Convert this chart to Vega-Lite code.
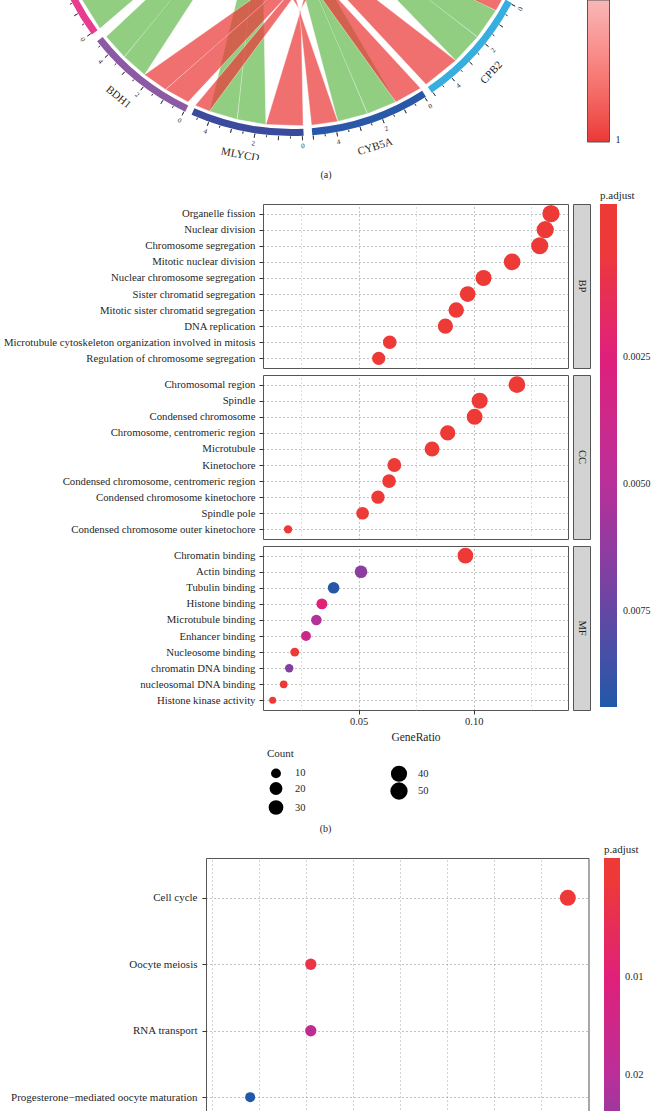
{
  "$schema": "https://vega.github.io/schema/vega-lite/v6.json",
  "padding": 0,
  "spacing": 10,
  "config": {
    "font": "Liberation Serif",
    "view": {"stroke": "#555555", "strokeWidth": 1},
    "axis": {"labelColor": "#1f1f1f", "titleColor": "#1f1f1f", "labelFontSize": 11, "titleFontSize": 11.5, "titleFontWeight": "normal", "tickColor": "#333333", "tickSize": 4, "domain": false, "labelPadding": 2.5},
    "legend": {"padding": 0, "labelColor": "#1f1f1f", "titleColor": "#1f1f1f", "titleFontWeight": "normal", "titleFontSize": 11, "labelFontSize": 10.5},
    "title": {"fontWeight": "normal", "fontSize": 10, "color": "#1f1f1f"}
  },
  "resolve": {"scale": {"color": "independent", "size": "independent", "stroke": "independent", "fill": "independent"}},
  "datasets": {
    "genes": [
      {"gene": "CPB2", "start": 117.6, "end": 145.7, "mid": 132.8, "logFC": 1},
      {"gene": "CYB5A", "start": 147.3, "end": 175.3, "mid": 162.2, "logFC": 1},
      {"gene": "MLYCD", "start": 177.3, "end": 203.9, "mid": 191, "logFC": 1},
      {"gene": "BDH1", "start": 205.5, "end": 231.8, "mid": 219.7, "logFC": 1},
      {"gene": "g5", "start": 233.8, "end": 265, "logFC": 1}
    ],
    "ticks": [
      {"t": 117.9, "m": 1, "lab": "0"}, {"t": 120.65, "m": 0}, {"t": 123.4, "m": 1}, {"t": 126.15, "m": 0}, {"t": 128.9, "m": 1, "lab": "2"}, {"t": 131.65, "m": 0}, {"t": 134.4, "m": 1}, {"t": 137.15, "m": 0}, {"t": 139.9, "m": 1, "lab": "4"}, {"t": 142.65, "m": 0}, {"t": 145.4, "m": 1},
      {"t": 147.6, "m": 1, "lab": "0"}, {"t": 150.35, "m": 0}, {"t": 153.1, "m": 1}, {"t": 155.85, "m": 0}, {"t": 158.6, "m": 1, "lab": "2"}, {"t": 161.35, "m": 0}, {"t": 164.1, "m": 1}, {"t": 166.85, "m": 0}, {"t": 169.6, "m": 1, "lab": "4"}, {"t": 172.35, "m": 0}, {"t": 175.1, "m": 1},
      {"t": 177.6, "m": 1, "lab": "0"}, {"t": 180.35, "m": 0}, {"t": 183.1, "m": 1}, {"t": 185.85, "m": 0}, {"t": 188.6, "m": 1, "lab": "2"}, {"t": 191.35, "m": 0}, {"t": 194.1, "m": 1}, {"t": 196.85, "m": 0}, {"t": 199.6, "m": 1, "lab": "4"}, {"t": 202.35, "m": 0},
      {"t": 205.8, "m": 1, "lab": "0"}, {"t": 208.55, "m": 0}, {"t": 211.3, "m": 1}, {"t": 214.05, "m": 0}, {"t": 216.8, "m": 1, "lab": "2"}, {"t": 219.55, "m": 0}, {"t": 222.3, "m": 1}, {"t": 225.05, "m": 0}, {"t": 227.8, "m": 1, "lab": "4"}, {"t": 230.55, "m": 0},
      {"t": 234.1, "m": 1, "lab": "0"}, {"t": 236.85, "m": 0}, {"t": 239.6, "m": 1}, {"t": 242.35, "m": 0}, {"t": 245.1, "m": 1}, {"t": 247.85, "m": 0}
    ],
    "ribbons": [
      {"type": "Feature", "properties": {"col": "g"}, "geometry": {"type": "Polygon", "coordinates": [[[-192.1, -140.6], [-210.1, -111.7], [-12.2, 14.0], [-192.1, -140.6]]]}},
      {"type": "Feature", "properties": {"col": "g"}, "geometry": {"type": "Polygon", "coordinates": [[[-210.1, -111.7], [-226.4, -73.5], [-9.2, 15.0], [-210.1, -111.7]]]}},
      {"type": "Feature", "properties": {"col": "g"}, "geometry": {"type": "Polygon", "coordinates": [[[-167.7, -168.9], [-185.8, -148.7], [-14.5, 11.75], [-167.7, -168.9]]]}},
      {"type": "Feature", "properties": {"col": "g"}, "geometry": {"type": "Polygon", "coordinates": [[[-147.5, -186.8], [-167.7, -168.9], [-19.1, 11.4], [-147.5, -186.8]]]}},
      {"type": "Feature", "properties": {"col": "g"}, "geometry": {"type": "Polygon", "coordinates": [[[-54.7, -231.6], [-82.6, -223.2], [-27.5, 1.65], [-54.7, -231.6]]]}},
      {"type": "Feature", "properties": {"col": "g"}, "geometry": {"type": "Polygon", "coordinates": [[[-26.1, -236.6], [-54.7, -231.6], [-30.5, -2.7], [-26.1, -236.6]]]}},
      {"type": "Feature", "properties": {"col": "g"}, "geometry": {"type": "Polygon", "coordinates": [[[75.5, -225.7], [45.8, -233.5], [-14.6, -6.0], [75.5, -225.7]]]}},
      {"type": "Feature", "properties": {"col": "g"}, "geometry": {"type": "Polygon", "coordinates": [[[104.0, -214.1], [75.5, -225.7], [-15.8, -9.5], [104.0, -214.1]]]}},
      {"type": "Feature", "properties": {"col": "g"}, "geometry": {"type": "Polygon", "coordinates": [[[185.6, -149.0], [163.8, -172.6], [-1.8, -2.0], [185.6, -149.0]]]}},
      {"type": "Feature", "properties": {"col": "g"}, "geometry": {"type": "Polygon", "coordinates": [[[204.0, -122.6], [185.6, -149.0], [-2.7, -4.3], [204.0, -122.6]]]}},
      {"type": "Feature", "properties": {"col": "r"}, "geometry": {"type": "Polygon", "coordinates": [[[-126.5, -201.6], [-147.5, -186.8], [58.0, -42.0], [-126.5, -201.6]]]}},
      {"type": "Feature", "properties": {"col": "r"}, "geometry": {"type": "Polygon", "coordinates": [[[-104.0, -214.1], [-126.5, -201.6], [62.0, -36.0], [-104.0, -214.1]]]}},
      {"type": "Feature", "properties": {"col": "r"}, "geometry": {"type": "Polygon", "coordinates": [[[-82.6, -223.2], [-96.8, -217.4], [60.0, -30.0], [-82.6, -223.2]]]}},
      {"type": "Feature", "properties": {"col": "r"}, "geometry": {"type": "Polygon", "coordinates": [[[11.2, -237.7], [-26.1, -236.6], [9.0, -121.0], [11.2, -237.7]]]}},
      {"type": "Feature", "properties": {"col": "r"}, "geometry": {"type": "Polygon", "coordinates": [[[9.0, -121.0], [45.0, -60.0], [27.0, -55.0], [9.0, -121.0]]]}},
      {"type": "Feature", "properties": {"col": "r"}, "geometry": {"type": "Polygon", "coordinates": [[[45.8, -233.5], [19.5, -237.2], [7.0, -121.0], [45.8, -233.5]]]}},
      {"type": "Feature", "properties": {"col": "r"}, "geometry": {"type": "Polygon", "coordinates": [[[7.0, -121.0], [-12.0, -55.0], [-32.0, -60.0], [7.0, -121.0]]]}},
      {"type": "Feature", "properties": {"col": "r"}, "geometry": {"type": "Polygon", "coordinates": [[[128.6, -200.3], [104.0, -214.1], [-26.8, -31.6], [128.6, -200.3]]]}},
      {"type": "Feature", "properties": {"col": "r"}, "geometry": {"type": "Polygon", "coordinates": [[[163.8, -172.6], [134.1, -196.6], [-20.1, -30.9], [163.8, -172.6]]]}},
      {"type": "Feature", "properties": {"col": "r"}, "geometry": {"type": "Polygon", "coordinates": [[[210.9, -110.3], [204.0, -122.6], [-6.7, -18.8], [210.9, -110.3]]]}}
    ],
    "bp": [
      {"Description": "Organelle fission", "GeneRatio": 0.1336, "Count": 50, "padj": 1.2e-20},
      {"Description": "Nuclear division", "GeneRatio": 0.1311, "Count": 49, "padj": 1.5e-20},
      {"Description": "Chromosome segregation", "GeneRatio": 0.1287, "Count": 48, "padj": 2.0e-22},
      {"Description": "Mitotic nuclear division", "GeneRatio": 0.1167, "Count": 44, "padj": 3.1e-20},
      {"Description": "Nuclear chromosome segregation", "GeneRatio": 0.1043, "Count": 39, "padj": 8.4e-18},
      {"Description": "Sister chromatid segregation", "GeneRatio": 0.0974, "Count": 37, "padj": 5.6e-18},
      {"Description": "Mitotic sister chromatid segregation", "GeneRatio": 0.0924, "Count": 35, "padj": 2.3e-18},
      {"Description": "DNA replication", "GeneRatio": 0.0877, "Count": 33, "padj": 1.1e-13},
      {"Description": "Microtubule cytoskeleton organization involved in mitosis", "GeneRatio": 0.0635, "Count": 24, "padj": 4.5e-13},
      {"Description": "Regulation of chromosome segregation", "GeneRatio": 0.0587, "Count": 22, "padj": 6.0e-11}
    ],
    "cc": [
      {"Description": "Chromosomal region", "GeneRatio": 0.1188, "Count": 45, "padj": 1.0e-19},
      {"Description": "Spindle", "GeneRatio": 0.1026, "Count": 39, "padj": 2.2e-15},
      {"Description": "Condensed chromosome", "GeneRatio": 0.1004, "Count": 38, "padj": 3.5e-18},
      {"Description": "Chromosome, centromeric region", "GeneRatio": 0.0887, "Count": 33, "padj": 1.4e-17},
      {"Description": "Microtubule", "GeneRatio": 0.0819, "Count": 31, "padj": 6.1e-10},
      {"Description": "Kinetochore", "GeneRatio": 0.0655, "Count": 25, "padj": 2.0e-13},
      {"Description": "Condensed chromosome, centromeric region", "GeneRatio": 0.0632, "Count": 24, "padj": 4.8e-15},
      {"Description": "Condensed chromosome kinetochore", "GeneRatio": 0.0584, "Count": 22, "padj": 1.3e-14},
      {"Description": "Spindle pole", "GeneRatio": 0.0517, "Count": 19, "padj": 7.7e-07},
      {"Description": "Condensed chromosome outer kinetochore", "GeneRatio": 0.0193, "Count": 7, "padj": 8.9e-07}
    ],
    "mf": [
      {"Description": "Chromatin binding", "GeneRatio": 0.0964, "Count": 36, "padj": 2.0e-05},
      {"Description": "Actin binding", "GeneRatio": 0.051, "Count": 19, "padj": 0.0064},
      {"Description": "Tubulin binding", "GeneRatio": 0.0391, "Count": 15, "padj": 0.0093},
      {"Description": "Histone binding", "GeneRatio": 0.034, "Count": 13, "padj": 0.0023},
      {"Description": "Microtubule binding", "GeneRatio": 0.0316, "Count": 12, "padj": 0.0051},
      {"Description": "Enhancer binding", "GeneRatio": 0.0271, "Count": 10, "padj": 0.0037},
      {"Description": "Nucleosome binding", "GeneRatio": 0.0222, "Count": 8, "padj": 0.0002},
      {"Description": "chromatin DNA binding", "GeneRatio": 0.0198, "Count": 7, "padj": 0.0066},
      {"Description": "nucleosomal DNA binding", "GeneRatio": 0.0174, "Count": 6, "padj": 0.0003},
      {"Description": "Histone kinase activity", "GeneRatio": 0.0126, "Count": 5, "padj": 0.00025}
    ],
    "kegg": [
      {"Description": "Cell cycle", "GeneRatio": 0.1058, "Count": 17, "padj": 2.1e-06},
      {"Description": "Oocyte meiosis", "GeneRatio": 0.0511, "Count": 8, "padj": 0.0021},
      {"Description": "RNA transport", "GeneRatio": 0.0511, "Count": 8, "padj": 0.018},
      {"Description": "Progesterone−mediated oocyte maturation", "GeneRatio": 0.0382, "Count": 6, "padj": 0.0386}
    ]
  },
  "vconcat": [
    {
      "width": 652,
      "height": 160,
      "view": {"stroke": null},
      "title": {"text": "(a)", "orient": "bottom", "offset": 10, "anchor": "middle"},
      "layer": [
        {
          "data": {"name": "ribbons"},
          "mark": {"type": "geoshape", "clip": true, "fillOpacity": 0.72, "stroke": "#ffffff", "strokeWidth": 0.6, "strokeOpacity": 0.7},
          "projection": {"type": "identity", "reflectY": true, "scale": 1, "translate": [292, -112]},
          "encoding": {
            "color": {"field": "properties.col", "type": "nominal", "scale": {"domain": ["g", "r"], "range": ["#67bb50", "#ea3939"]}, "legend": null}
          }
        },
        {
          "data": {"name": "genes"},
          "mark": {"type": "arc", "radius": 248, "radius2": 241, "clip": true, "strokeWidth": 0},
          "encoding": {
            "x": {"datum": 0, "type": "quantitative", "scale": {"domain": [-292, 360], "nice": false, "zero": false}, "axis": null},
            "y": {"datum": 0, "type": "quantitative", "scale": {"domain": [-272, -112], "nice": false, "zero": false}, "axis": null},
            "theta": {"field": "start", "type": "quantitative", "stack": null, "scale": {"domain": [0, 360], "range": [0, 6.283185307]}},
            "theta2": {"field": "end"},
            "fill": {"field": "gene", "type": "nominal", "scale": {"domain": ["CPB2", "CYB5A", "MLYCD", "BDH1", "g5"], "range": ["#36aee0", "#2a58a8", "#3a4a9c", "#8c59a5", "#e83d8f"]}, "legend": null},
            "stroke": {"field": "logFC", "type": "quantitative", "scale": {"domain": [1.005, 0.55], "range": ["#ea3838", "#f7b8b8"]},
              "legend": {"orient": "none", "legendX": 587.5, "legendY": 0, "title": null, "gradientLength": 142, "gradientThickness": 22, "values": [1], "format": "d", "gradientStrokeColor": "#555555", "gradientStrokeWidth": 1, "labelFontSize": 10, "labelOffset": 6}}
          }
        },
        {
          "data": {"name": "ticks"},
          "transform": [{"filter": "datum.m == 1"}],
          "mark": {"type": "arc", "radius": 252.5, "radius2": 248.5, "clip": true, "fillOpacity": 0, "stroke": "#333333", "strokeWidth": 0.8},
          "encoding": {
            "x": {"datum": 0, "type": "quantitative", "scale": {"domain": [-292, 360], "nice": false, "zero": false}, "axis": null},
            "y": {"datum": 0, "type": "quantitative", "scale": {"domain": [-272, -112], "nice": false, "zero": false}, "axis": null},
            "theta": {"field": "t", "type": "quantitative", "stack": null, "scale": {"domain": [0, 360], "range": [0, 6.283185307]}},
            "theta2": {"field": "t"}
          }
        },
        {
          "data": {"name": "ticks"},
          "transform": [{"filter": "datum.m == 0"}],
          "mark": {"type": "arc", "radius": 250.5, "radius2": 248.5, "clip": true, "fillOpacity": 0, "stroke": "#333333", "strokeWidth": 0.7},
          "encoding": {
            "x": {"datum": 0, "type": "quantitative", "scale": {"domain": [-292, 360], "nice": false, "zero": false}, "axis": null},
            "y": {"datum": 0, "type": "quantitative", "scale": {"domain": [-272, -112], "nice": false, "zero": false}, "axis": null},
            "theta": {"field": "t", "type": "quantitative", "stack": null, "scale": {"domain": [0, 360], "range": [0, 6.283185307]}},
            "theta2": {"field": "t"}
          }
        },
        {
          "data": {"name": "ticks"},
          "transform": [{"filter": "isValid(datum.lab)"}],
          "mark": {"type": "text", "radius": 258.5, "clip": true, "fontSize": 7, "color": "#1f1f1f", "align": "center", "baseline": "middle"},
          "encoding": {
            "x": {"datum": 0, "type": "quantitative", "scale": {"domain": [-292, 360], "nice": false, "zero": false}, "axis": null},
            "y": {"datum": 0, "type": "quantitative", "scale": {"domain": [-272, -112], "nice": false, "zero": false}, "axis": null},
            "theta": {"field": "t", "type": "quantitative", "stack": null, "scale": {"domain": [0, 360], "range": [0, 6.283185307]}},
            "angle": {"field": "t", "type": "quantitative", "scale": {"domain": [90, 270], "range": [-90, 90]}},
            "text": {"field": "lab", "type": "nominal"}
          }
        },
        {
          "data": {"name": "genes"},
          "transform": [{"filter": "isValid(datum.mid)"}],
          "mark": {"type": "text", "radius": 272, "clip": true, "fontSize": 11, "color": "#1f1f1f", "align": "center", "baseline": "middle"},
          "encoding": {
            "x": {"datum": 0, "type": "quantitative", "scale": {"domain": [-292, 360], "nice": false, "zero": false}, "axis": null},
            "y": {"datum": 0, "type": "quantitative", "scale": {"domain": [-272, -112], "nice": false, "zero": false}, "axis": null},
            "theta": {"field": "mid", "type": "quantitative", "stack": null, "scale": {"domain": [0, 360], "range": [0, 6.283185307]}},
            "angle": {"field": "mid", "type": "quantitative", "scale": {"domain": [90, 270], "range": [-90, 90]}},
            "text": {"field": "gene", "type": "nominal"}
          }
        }
      ]
    },
    {
      "spacing": 5,
      "title": {"text": "(b)", "orient": "bottom", "offset": 9, "anchor": "middle"},
      "vconcat": [
        {
          "spacing": 3,
          "hconcat": [
            {
              "width": 1, "height": 164,
              "data": {"name": "bp"},
              "view": {"stroke": null},
              "mark": {"type": "point", "opacity": 0, "size": 0, "strokeWidth": 0},
              "encoding": {
                "y": {"field": "Description", "type": "nominal", "sort": null, "scale": {"type": "point", "padding": 0.6},
                  "axis": {"orient": "right", "title": null, "ticks": false, "domain": false, "grid": false, "labelAlign": "right", "labelPadding": 254, "labelLimit": 0, "labelFontSize": 10.75}}
              }
            },
            {
              "width": 305, "height": 164,
              "data": {"name": "bp"},
              "mark": {"type": "circle", "opacity": 1},
              "encoding": {
                "x": {"field": "GeneRatio", "type": "quantitative", "scale": {"domain": [0.0084, 0.141], "nice": false, "zero": false},
                  "axis": {"values": [0.025, 0.05, 0.075, 0.1, 0.125], "labels": false, "ticks": false, "domain": false, "title": null, "grid": true, "gridDash": [1, 3], "gridWidth": 0.9, "gridColor": {"condition": {"test": "datum.value == 0.05 || datum.value == 0.1", "value": "#777777"}, "value": "#b5b5b5"}}},
                "y": {"field": "Description", "type": "nominal", "sort": null, "scale": {"type": "point", "padding": 0.6},
                  "axis": {"title": null, "labels": false, "ticks": true, "grid": true, "gridDash": [1, 3], "gridColor": "#777777", "gridWidth": 0.9}},
                "color": {"field": "padj", "type": "quantitative", "scale": {"domain": [0.00939, 0.00692, 0.005, 0.00246, 0.0003, -0.00051], "range": ["#2158a8", "#7a42a2", "#b8309a", "#e0207a", "#ee3a36", "#ee3a36"], "interpolate": "rgb"},
                  "legend": {"orient": "none", "legendX": 600, "legendY": -14, "title": "p.adjust", "gradientLength": 503, "gradientThickness": 17, "values": [0.0025, 0.005, 0.0075], "format": ".4f", "labelOffset": 6, "labelFontSize": 10, "titlePadding": 3, "gradientStrokeWidth": 0}},
                "size": {"field": "Count", "type": "quantitative", "scale": {"type": "sqrt", "domain": [5, 50], "range": [49, 300], "zero": false},
                  "legend": {"orient": "none", "legendX": 267, "legendY": 544, "title": "Count", "values": [10, 20, 30, 40, 50], "columns": 2, "columnPadding": 84, "rowPadding": 0, "symbolFillColor": "#000000", "symbolStrokeColor": "#000000", "symbolStrokeWidth": 0, "symbolOpacity": 1, "symbolType": "circle", "labelOffset": 10, "titlePadding": 6}}
              }
            },
            {
              "width": 17, "height": 164,
              "data": {"values": [{"ont": "BP"}]},
              "view": {"fill": "#d3d3d3", "stroke": "#555555"},
              "mark": {"type": "text", "angle": 90, "fontSize": 10.5, "color": "#1f1f1f"},
              "encoding": {"text": {"field": "ont", "type": "nominal"}}
            }
          ]
        },
        {
          "spacing": 3,
          "hconcat": [
            {
              "width": 1, "height": 164,
              "data": {"name": "cc"},
              "view": {"stroke": null},
              "mark": {"type": "point", "opacity": 0, "size": 0, "strokeWidth": 0},
              "encoding": {
                "y": {"field": "Description", "type": "nominal", "sort": null, "scale": {"type": "point", "padding": 0.6},
                  "axis": {"orient": "right", "title": null, "ticks": false, "domain": false, "grid": false, "labelAlign": "right", "labelPadding": 254, "labelLimit": 0, "labelFontSize": 10.75}}
              }
            },
            {
              "width": 305, "height": 164,
              "data": {"name": "cc"},
              "mark": {"type": "circle", "opacity": 1},
              "encoding": {
                "x": {"field": "GeneRatio", "type": "quantitative", "scale": {"domain": [0.0084, 0.141], "nice": false, "zero": false},
                  "axis": {"values": [0.025, 0.05, 0.075, 0.1, 0.125], "labels": false, "ticks": false, "domain": false, "title": null, "grid": true, "gridDash": [1, 3], "gridWidth": 0.9, "gridColor": {"condition": {"test": "datum.value == 0.05 || datum.value == 0.1", "value": "#777777"}, "value": "#b5b5b5"}}},
                "y": {"field": "Description", "type": "nominal", "sort": null, "scale": {"type": "point", "padding": 0.6},
                  "axis": {"title": null, "labels": false, "ticks": true, "grid": true, "gridDash": [1, 3], "gridColor": "#777777", "gridWidth": 0.9}},
                "color": {"field": "padj", "type": "quantitative", "scale": {"domain": [0.00939, 0.00692, 0.005, 0.00246, 0.0003, -0.00051], "range": ["#2158a8", "#7a42a2", "#b8309a", "#e0207a", "#ee3a36", "#ee3a36"], "interpolate": "rgb"},
                  "legend": {"orient": "none", "legendX": 600, "legendY": -14, "title": "p.adjust", "gradientLength": 503, "gradientThickness": 17, "values": [0.0025, 0.005, 0.0075], "format": ".4f", "labelOffset": 6, "labelFontSize": 10, "titlePadding": 3, "gradientStrokeWidth": 0}},
                "size": {"field": "Count", "type": "quantitative", "scale": {"type": "sqrt", "domain": [5, 50], "range": [49, 300], "zero": false},
                  "legend": {"orient": "none", "legendX": 267, "legendY": 544, "title": "Count", "values": [10, 20, 30, 40, 50], "columns": 2, "columnPadding": 84, "rowPadding": 0, "symbolFillColor": "#000000", "symbolStrokeColor": "#000000", "symbolStrokeWidth": 0, "symbolOpacity": 1, "symbolType": "circle", "labelOffset": 10, "titlePadding": 6}}
              }
            },
            {
              "width": 17, "height": 164,
              "data": {"values": [{"ont": "CC"}]},
              "view": {"fill": "#d3d3d3", "stroke": "#555555"},
              "mark": {"type": "text", "angle": 90, "fontSize": 10.5, "color": "#1f1f1f"},
              "encoding": {"text": {"field": "ont", "type": "nominal"}}
            }
          ]
        },
        {
          "spacing": 3,
          "hconcat": [
            {
              "width": 1, "height": 164,
              "data": {"name": "mf"},
              "view": {"stroke": null},
              "mark": {"type": "point", "opacity": 0, "size": 0, "strokeWidth": 0},
              "encoding": {
                "y": {"field": "Description", "type": "nominal", "sort": null, "scale": {"type": "point", "padding": 0.6},
                  "axis": {"orient": "right", "title": null, "ticks": false, "domain": false, "grid": false, "labelAlign": "right", "labelPadding": 254, "labelLimit": 0, "labelFontSize": 10.75}}
              }
            },
            {
              "width": 305, "height": 164,
              "data": {"name": "mf"},
              "mark": {"type": "circle", "opacity": 1},
              "encoding": {
                "x": {"field": "GeneRatio", "type": "quantitative", "scale": {"domain": [0.0084, 0.141], "nice": false, "zero": false},
                  "axis": {"values": [0.025, 0.05, 0.075, 0.1, 0.125], "labelExpr": "datum.value == 0.05 ? '0.05' : datum.value == 0.1 ? '0.10' : ''", "labelOverlap": false, "labelFlush": false, "labelFontSize": 10.5, "labelPadding": 2, "tickColor": {"condition": {"test": "datum.value == 0.05 || datum.value == 0.1", "value": "#333333"}, "value": "transparent"}, "domain": false, "title": "GeneRatio", "titlePadding": 5, "grid": true, "gridDash": [1, 3], "gridWidth": 0.9, "gridColor": {"condition": {"test": "datum.value == 0.05 || datum.value == 0.1", "value": "#777777"}, "value": "#b5b5b5"}}},
                "y": {"field": "Description", "type": "nominal", "sort": null, "scale": {"type": "point", "padding": 0.6},
                  "axis": {"title": null, "labels": false, "ticks": true, "grid": true, "gridDash": [1, 3], "gridColor": "#777777", "gridWidth": 0.9}},
                "color": {"field": "padj", "type": "quantitative", "scale": {"domain": [0.00939, 0.00692, 0.005, 0.00246, 0.0003, -0.00051], "range": ["#2158a8", "#7a42a2", "#b8309a", "#e0207a", "#ee3a36", "#ee3a36"], "interpolate": "rgb"},
                  "legend": {"orient": "none", "legendX": 600, "legendY": -14, "title": "p.adjust", "gradientLength": 503, "gradientThickness": 17, "values": [0.0025, 0.005, 0.0075], "format": ".4f", "labelOffset": 6, "labelFontSize": 10, "titlePadding": 3, "gradientStrokeWidth": 0}},
                "size": {"field": "Count", "type": "quantitative", "scale": {"type": "sqrt", "domain": [5, 50], "range": [49, 300], "zero": false},
                  "legend": {"orient": "none", "legendX": 267, "legendY": 544, "title": "Count", "values": [10, 20, 30, 40, 50], "columns": 2, "columnPadding": 84, "rowPadding": 0, "symbolFillColor": "#000000", "symbolStrokeColor": "#000000", "symbolStrokeWidth": 0, "symbolOpacity": 1, "symbolType": "circle", "labelOffset": 10, "titlePadding": 6}}
              }
            },
            {
              "width": 17, "height": 164,
              "data": {"values": [{"ont": "MF"}]},
              "view": {"fill": "#d3d3d3", "stroke": "#555555"},
              "mark": {"type": "text", "angle": 90, "fontSize": 10.5, "color": "#1f1f1f"},
              "encoding": {"text": {"field": "ont", "type": "nominal"}}
            }
          ]
        }
      ]
    },
    {
      "spacing": 4,
      "hconcat": [
        {
          "width": 1, "height": 279,
          "data": {"name": "kegg"},
          "view": {"stroke": null},
          "mark": {"type": "point", "opacity": 0, "size": 0, "strokeWidth": 0},
          "encoding": {
            "y": {"field": "Description", "type": "nominal", "sort": null, "scale": {"type": "point", "padding": 0.6},
              "axis": {"orient": "right", "title": null, "ticks": false, "domain": false, "grid": false, "labelAlign": "right", "labelPadding": 196, "labelLimit": 0}}
          }
        },
        {
          "width": 382.5,
          "height": 279,
          "data": {"name": "kegg"},
          "mark": {"type": "circle", "opacity": 1},
          "encoding": {
            "x": {"field": "GeneRatio", "type": "quantitative", "scale": {"domain": [0.0288, 0.1102], "nice": false, "zero": false},
              "axis": {"values": [0.03, 0.04, 0.05, 0.06, 0.07, 0.08, 0.09, 0.1, 0.11], "labels": false, "ticks": false, "domain": false, "title": null, "grid": true, "gridDash": [1, 3], "gridWidth": 0.9, "gridColor": "#9a9a9a"}},
            "y": {"field": "Description", "type": "nominal", "sort": null, "scale": {"type": "point", "padding": 0.6},
              "axis": {"title": null, "labels": false, "ticks": true, "grid": true, "gridDash": [1, 3], "gridColor": "#777777", "gridWidth": 0.9}},
            "color": {"field": "padj", "type": "quantitative", "scale": {"domain": [0.0386, 0.02838, 0.02049, 0.00999, -0.0002, -0.00227], "range": ["#2158a8", "#7a42a2", "#b8309a", "#e0207a", "#ee3a36", "#ee3a36"], "interpolate": "rgb"},
              "legend": {"orient": "none", "legendX": 604, "legendY": -14, "title": "p.adjust", "gradientLength": 398, "gradientThickness": 16, "values": [0.01, 0.02], "format": ".2f", "labelOffset": 5, "titlePadding": 3, "gradientStrokeWidth": 0}},
            "size": {"field": "Count", "type": "quantitative", "scale": {"domain": [6, 17], "range": [100, 256], "zero": false}, "legend": null}
          }
        }
      ]
    }
  ]
}
